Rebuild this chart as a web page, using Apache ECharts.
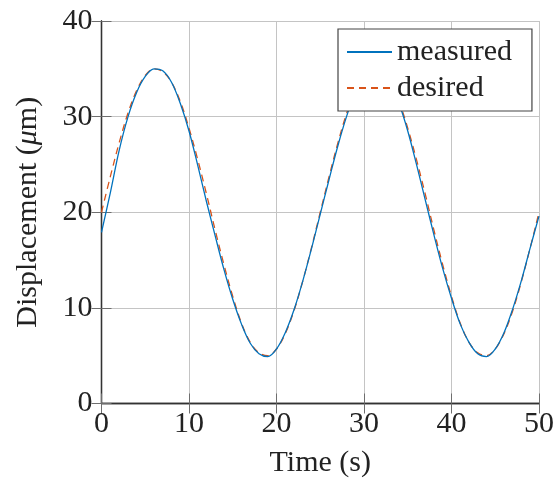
<!DOCTYPE html>
<html>
<head>
<meta charset="utf-8">
<script src="https://cdn.jsdelivr.net/npm/echarts@6/dist/echarts.min.js"></script>
<style>
html,body{margin:0;padding:0;background:#fff;}
#c{width:557px;height:486px;}
</style>
</head>
<body>
<div id="c"></div>
<script>
// Time (s)
var time = [0,1,2,3,4,5,6,7,8,9,10,11,12,13,14,15,16,17,18,19,20,21,22,23,24,25,26,27,28,29,30,31,32,33,34,35,36,37,38,39,40,41,42,43,44,45,46,47,48,49,50];
// Displacement (um) - measured
var measured = [17.9,22.0,26.4,29.9,32.5,34.2,35.0,34.8,33.6,31.4,28.5,24.9,21.1,17.5,14.0,10.9,8.3,6.3,5.2,4.9,5.7,7.4,9.8,12.8,16.2,19.8,23.4,26.9,30.0,32.5,34.2,35.0,34.7,33.5,31.4,28.5,25.0,21.3,17.6,14.1,11.0,8.3,6.4,5.2,4.9,5.7,7.4,9.9,12.9,16.3,19.6];
// Displacement (um) - desired
var desired = [20.0,23.7,27.2,30.3,32.7,34.3,35.0,34.7,33.6,31.6,28.8,25.5,21.9,18.1,14.5,11.2,8.4,6.4,5.3,5.0,5.7,7.3,9.7,12.8,16.3,20.0,23.7,27.2,30.3,32.7,34.3,35.0,34.7,33.6,31.6,28.8,25.5,21.9,18.1,14.5,11.2,8.4,6.4,5.3,5.0,5.7,7.3,9.7,12.8,16.3,20.0];
var xTicks = [0,10,20,30,40,50];
var yTicks = [0,10,20,30,40];
var seriesNames = ['measured','desired'];

var FONT = '"Liberation Serif", "Times New Roman", serif';
function pairs(xs, ys){ return xs.map(function(x,i){ return [x, ys[i]]; }); }

var chart = echarts.init(document.getElementById('c'), null, {renderer:'canvas'});
var tickStyle = {show:true, inside:true, length:10, lineStyle:{color:'#6e6e6e', width:1}};
var lineStyleAxis = {show:true, lineStyle:{color:'#333', width:1.3}};
chart.setOption({
  animation:false,
  backgroundColor:'#fff',
  grid:{left:101.5, right:17, top:21, bottom:82.5, containLabel:false},
  legend:{
    data:seriesNames,
    orient:'vertical',
    left:338, top:29,
    padding:[8,20,8,8],
    itemGap:6,
    itemWidth:45, itemHeight:14,
    itemTextGap:7,
    itemStyle:{opacity:0},
    backgroundColor:'#fff',
    borderColor:'#444', borderWidth:1.2,
    textStyle:{fontFamily:FONT, fontSize:30, color:'#222'}
  },
  xAxis:[{
    type:'value', min:xTicks[0], max:xTicks[xTicks.length-1], interval:10,
    position:'bottom',
    axisLine:lineStyleAxis, axisTick:tickStyle,
    axisLabel:{fontFamily:FONT, fontSize:30, color:'#222', margin:6},
    splitLine:{show:true, lineStyle:{color:'#c4c4c4', width:1}},
    name:'Time (s)', nameLocation:'middle', nameGap:45,
    nameTextStyle:{fontFamily:FONT, fontSize:30, color:'#222'}
  },{
    type:'value', min:xTicks[0], max:xTicks[xTicks.length-1], interval:10,
    position:'top',
    axisLine:lineStyleAxis, axisTick:tickStyle,
    axisLabel:{show:false}, splitLine:{show:false}
  }],
  yAxis:[{
    type:'value', min:yTicks[0], max:yTicks[yTicks.length-1], interval:10,
    position:'left',
    axisLine:lineStyleAxis, axisTick:tickStyle,
    axisLabel:{fontFamily:FONT, fontSize:30, color:'#222', margin:9},
    splitLine:{show:true, lineStyle:{color:'#c4c4c4', width:1}},
    name:'{a|Displacement (}{b|μ}{a|m)}', nameLocation:'middle', nameGap:58, nameRotate:90,
    nameTextStyle:{fontFamily:FONT, fontSize:30, color:'#222',
      rich:{a:{fontFamily:FONT, fontSize:30, color:'#222'}, b:{fontFamily:FONT, fontSize:30, fontStyle:'italic', color:'#222'}}}
  },{
    type:'value', min:yTicks[0], max:yTicks[yTicks.length-1], interval:10,
    position:'right',
    axisLine:lineStyleAxis, axisTick:tickStyle,
    axisLabel:{show:false}, splitLine:{show:false}
  }],
  series:[{
    name:seriesNames[0], type:'line', data:pairs(time, measured),
    symbol:'none', smooth:0.35,
    lineStyle:{color:'#0072BD', width:1.3},
    itemStyle:{color:'#0072BD'}, z:3
  },{
    name:seriesNames[1], type:'line', data:pairs(time, desired),
    symbol:'none', smooth:0.35,
    lineStyle:{color:'#D95319', width:1.3, type:[7,5]},
    itemStyle:{color:'#D95319'}, z:2
  }]
});
</script>
</body>
</html>
